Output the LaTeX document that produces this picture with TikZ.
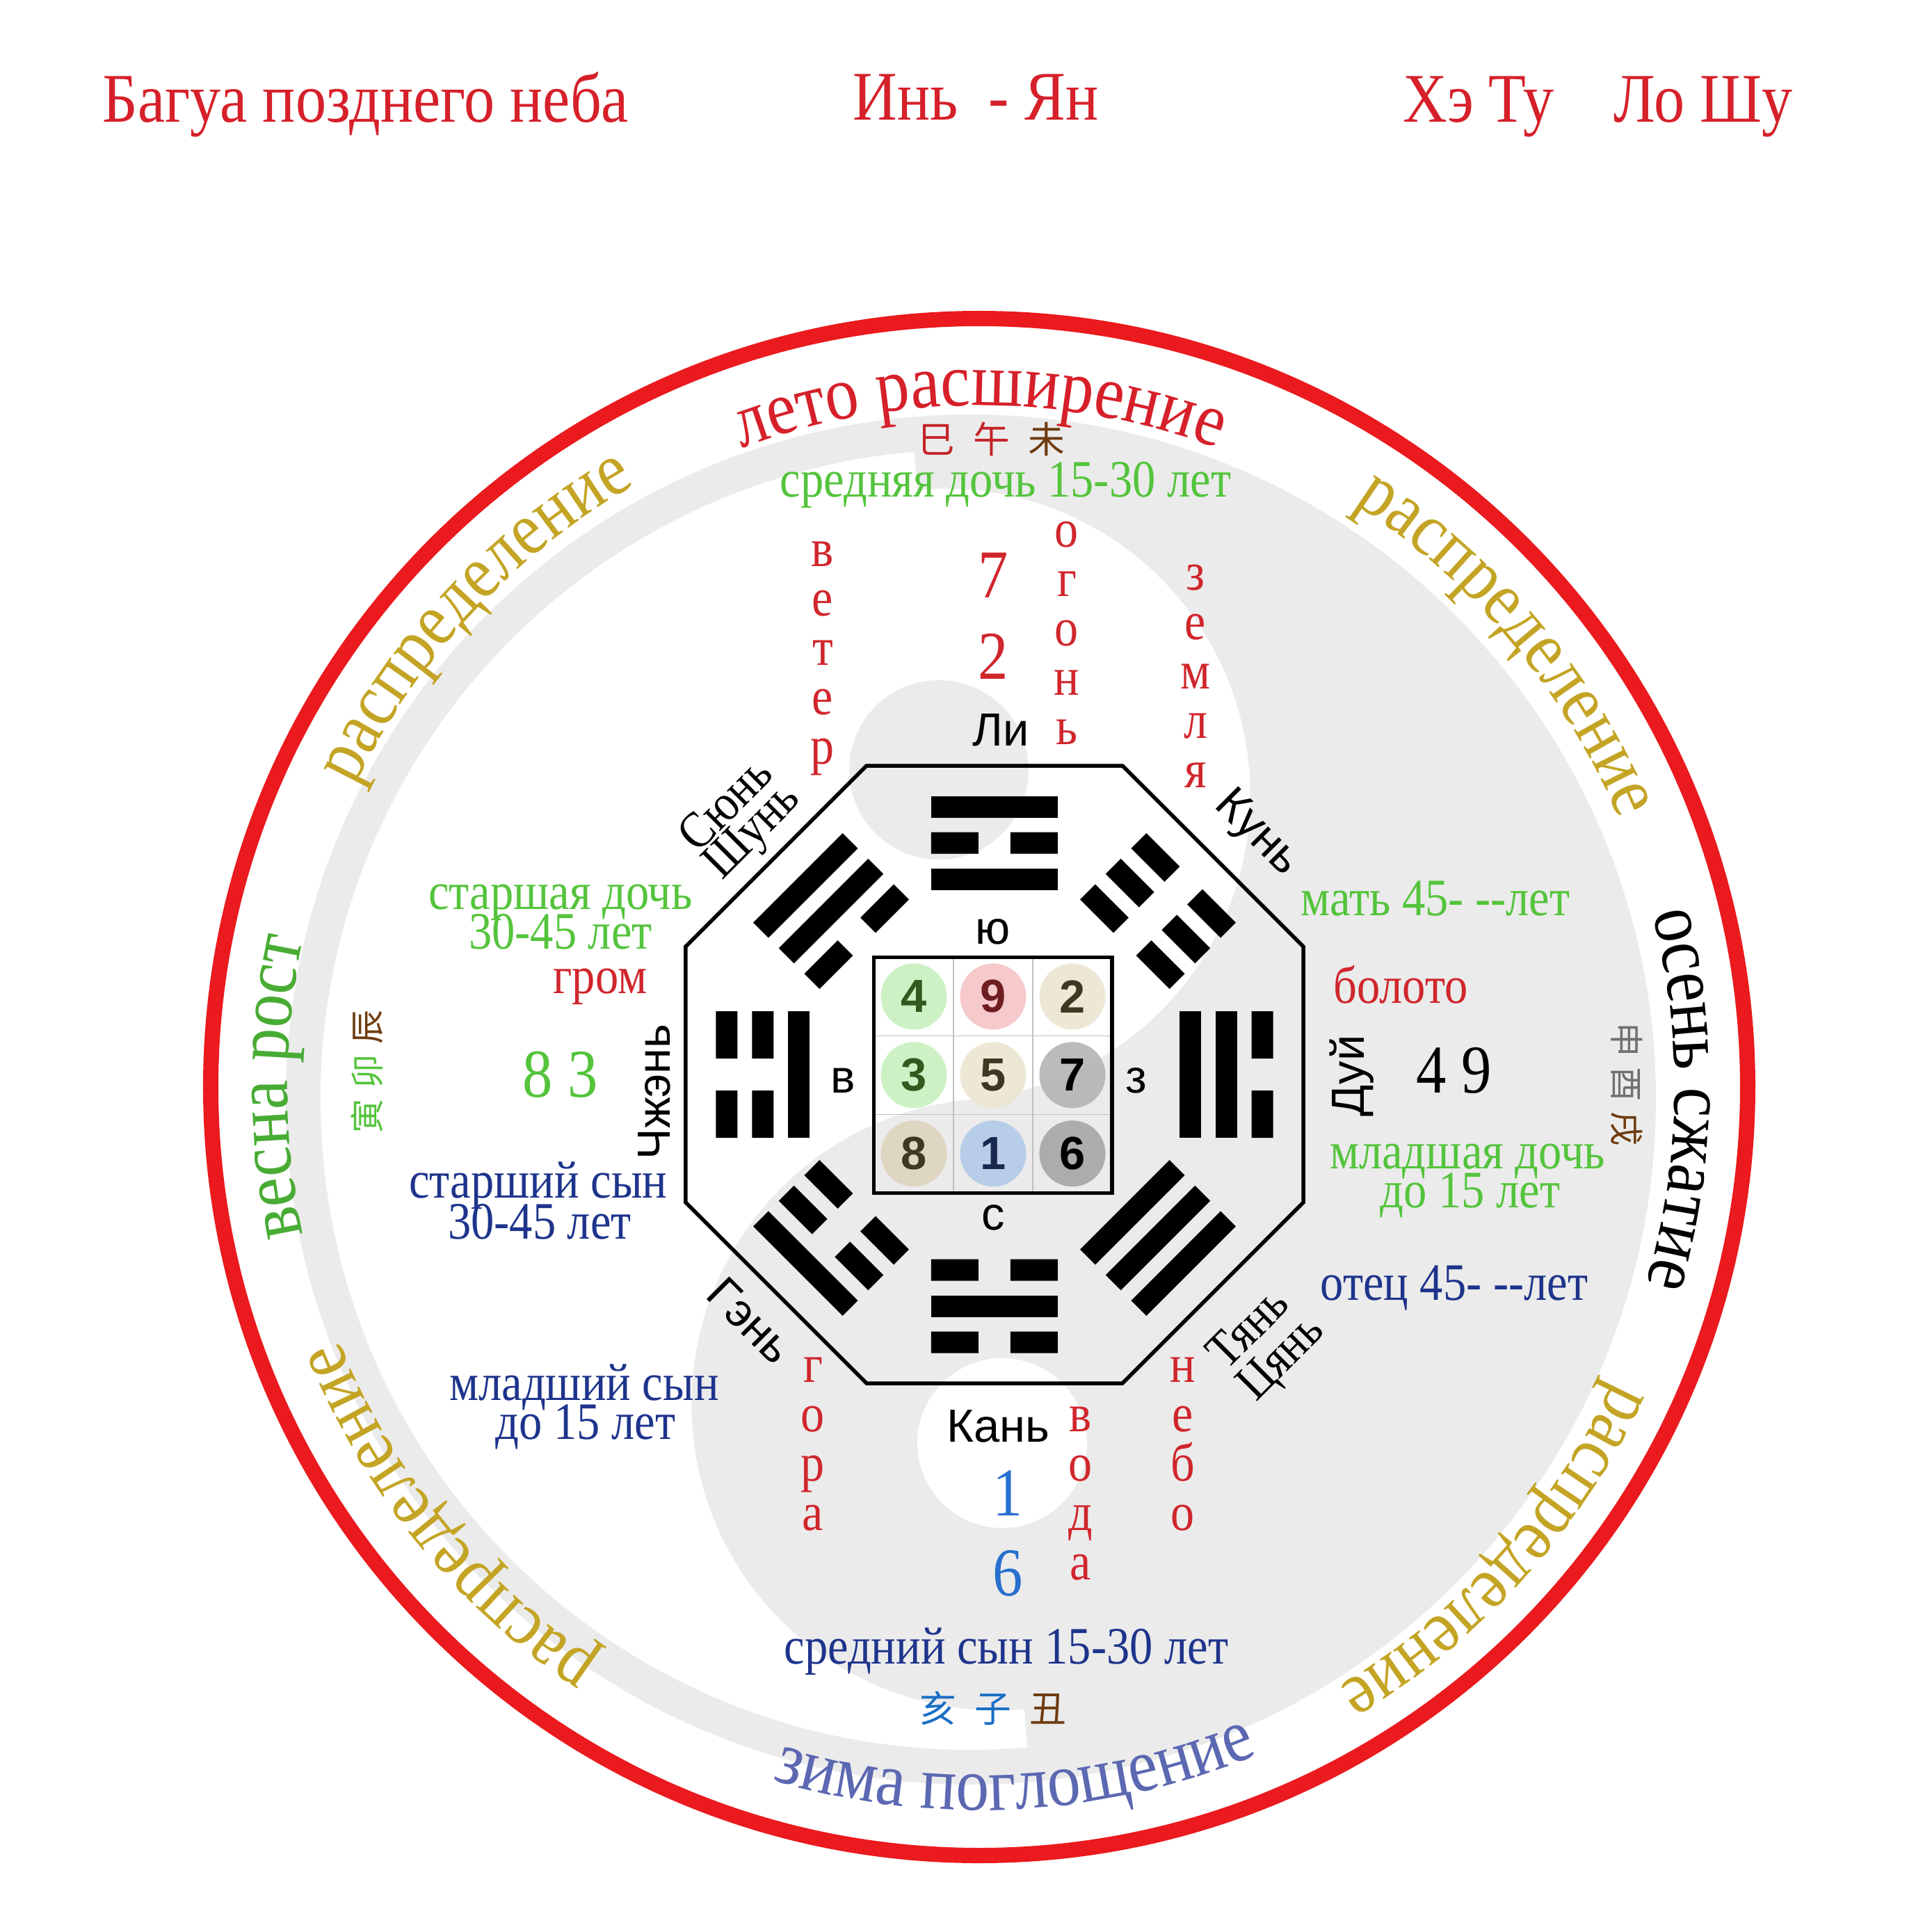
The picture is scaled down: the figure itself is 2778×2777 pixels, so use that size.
\documentclass[tikz,border=0pt]{standalone}
\usepackage{fontspec}
\setmainfont{Liberation Serif}[FakeStretch=0.88]
\newfontfamily\labelsans{Liberation Sans}
\newfontfamily\cjk{Noto Sans CJK SC}
\usetikzlibrary{decorations.text}

\definecolor{ringred}{RGB}{234,26,30}
\definecolor{titlered}{RGB}{214,32,42}
\definecolor{elemred}{RGB}{208,38,44}
\definecolor{yygray}{RGB}{235,235,235}
\definecolor{gold}{RGB}{196,164,36}
\definecolor{famgreen}{RGB}{84,196,60}
\definecolor{springgreen}{RGB}{72,172,52}
\definecolor{navy}{RGB}{30,52,140}
\definecolor{winterblue}{RGB}{92,104,178}
\definecolor{numblue}{RGB}{40,112,206}
\definecolor{branchbrown}{RGB}{110,60,16}
\definecolor{branchred}{RGB}{196,36,40}
\definecolor{branchblue}{RGB}{26,110,196}
\definecolor{branchgray}{RGB}{112,112,112}
\definecolor{cellgreen}{RGB}{200,240,190}
\definecolor{cellpink}{RGB}{246,196,198}
\definecolor{cellbeige}{RGB}{236,230,210}
\definecolor{celltan}{RGB}{222,212,190}
\definecolor{cellblue}{RGB}{178,202,232}
\definecolor{cellgray}{RGB}{180,180,180}
\definecolor{numgreen}{RGB}{48,90,30}
\definecolor{numred}{RGB}{110,30,34}
\definecolor{numolive}{RGB}{62,56,34}
\definecolor{numnavy}{RGB}{26,40,80}

\newcommand{\ringfont}{\fontsize{31}{31}\selectfont}
\newcommand{\yangbar}[1]{\fill (-91,#1-15.5) rectangle (91,#1+15.5);}
\newcommand{\yinbar}[1]{\fill (-91,#1-15.5) rectangle (-23,#1+15.5)
  (23,#1-15.5) rectangle (91,#1+15.5);}
\newcommand{\trigram}[5]{%
  \begin{scope}[shift={#1},rotate=#2]
    #3{52} #4{0} #5{-52}
  \end{scope}}

\begin{document}
\begin{tikzpicture}[
  x=0.01cm, y=0.01cm,
  title/.style={font=\fontsize{28.5}{28.5}\selectfont, text=titlered,
    anchor=base, inner sep=0},
  ring/.style={draw=ringred, line width=0.22cm},
  ringtext/.style 2 args={decorate, decoration={text along path,
    text align=center, text color=#1, text={|\ringfont|#2}}},
  family/.style={font=\fontsize{21.5}{21.5}\selectfont, anchor=base,
    inner sep=0},
  elem/.style={font=\fontsize{22}{22}\selectfont, text=elemred,
    anchor=base, inner sep=0},
  digit/.style={font=\fontsize{28}{28}\selectfont, anchor=base, inner sep=0},
  trigname/.style={font=\labelsans\fontsize{19}{19}\selectfont, inner sep=0},
  trigserif/.style={font=\fontsize{21}{21}\selectfont, inner sep=0},
  dirletter/.style={font=\labelsans\fontsize{19}{19}\selectfont, inner sep=0},
  gridnum/.style={circle, minimum size=0.95cm, inner sep=0,
    fill opacity=0.9, text opacity=1,
    font=\labelsans\bfseries\fontsize{19}{19}\selectfont},
  branch/.style={font=\cjk\fontsize{15}{15}\selectfont, inner sep=0},
  sidebranch/.style={font=\cjk\fontsize{14}{14}\selectfont, inner sep=0},
  octagon/.style={draw=black, line width=0.055cm, line join=miter},
  gridline/.style={draw=black!25, line width=0.4pt},
  gridframe/.style={draw=black, line width=0.05cm}
]
\useasboundingbox (-1408,-1214) rectangle (1370,1563);

% titles
\node[title] (ttlbagua) at (-882,1388) {Багуа позднего неба};
\node[title] (ttlyinyang) at (-5,1390) {Инь\ \ - Ян};
\node[title] (ttlhetu) at (718,1388) {Хэ Ту};
\node[title] (ttlloshu) at (1041,1388) {Ло Шу};

% yin-yang background
\fill[yygray] (-12,-18) circle[radius=985];
\begin{scope}[shift={(-12,-18)},rotate=5]
  \fill[white] (0,935) arc[start angle=90,end angle=270,radius=935]
    -- (0,-880) arc[start angle=270,end angle=90,radius=440]
    arc[start angle=-90,end angle=90,radius=440] -- cycle;
\end{scope}
\fill[yygray] (-58,456) circle[radius=129];
\fill[white] (33,-512) circle[radius=122];

% outer ring
\draw[ring] (0,0) circle[radius=1105];

% seasons along the ring
\path[ringtext={titlered}{лето расширение}]
  (135:980) arc[start angle=135,end angle=45,radius=980];
\path[ringtext={gold}{распределение}]
  (180:997) arc[start angle=180,end angle=94,radius=997];
\path[ringtext={gold}{распределение}]
  (85:997) arc[start angle=85,end angle=-5,radius=997];
\path[ringtext={black}{осень сжатие}]
  (40:1000) arc[start angle=40,end angle=-42,radius=1000];
\path[ringtext={gold}{распределение}]
  (-2:1005) arc[start angle=-2,end angle=-82,radius=1005];
\path[ringtext={winterblue}{зима поглощение}]
  (-130:1040) arc[start angle=-130,end angle=-44,radius=1040];
\path[ringtext={gold}{распределение}]
  (259:990) arc[start angle=259,end angle=179,radius=990];
\path[ringtext={springgreen}{весна рост}]
  (220:995) arc[start angle=220,end angle=140,radius=995];

% earthly branches
\node[branch, text=branchred] (brsummer) at (18,932)
  {巳\hspace{0.5em}午\hspace{0.5em}\textcolor{branchbrown}{未}};
\node[branch, text=branchblue] (brwinter) at (20,-893)
  {亥\hspace{0.5em}子\hspace{0.5em}\textcolor{branchbrown}{丑}};
\node[sidebranch, text=famgreen, rotate=90] (brspring) at (-880,22)
  {寅\hspace{0.3em}卯\hspace{0.3em}\textcolor{branchbrown}{辰}};
\node[sidebranch, text=branchgray, rotate=-90] (brautumn) at (931,4)
  {申\hspace{0.3em}酉\hspace{0.3em}\textcolor{branchbrown}{戌}};

% octagon
\draw[octagon] (-162,462) -- (206,462) -- (466,202) -- (466,-166)
  -- (206,-426) -- (-162,-426) -- (-422,-166) -- (-422,202) -- cycle;

% trigrams
\trigram{(22,351)}{0}{\yangbar}{\yinbar}{\yangbar}
\trigram{(22,-315)}{180}{\yinbar}{\yangbar}{\yinbar}
\trigram{(-311,18)}{90}{\yinbar}{\yinbar}{\yangbar}
\trigram{(355,18)}{-90}{\yinbar}{\yangbar}{\yangbar}
\trigram{(-213,253)}{45}{\yangbar}{\yangbar}{\yinbar}
\trigram{(257,253)}{-45}{\yinbar}{\yinbar}{\yinbar}
\trigram{(-213,-217)}{135}{\yangbar}{\yinbar}{\yinbar}
\trigram{(257,-217)}{-135}{\yangbar}{\yangbar}{\yangbar}

% Lo Shu square
\draw[gridline] (-37,186.5) -- (-37,-152) (77,186.5) -- (77,-152)
  (-151,73.7) -- (191,73.7) (-151,-39.2) -- (191,-39.2);
\foreach \c/\r/\n/\bg/\fg in {0/0/4/cellgreen/numgreen, 1/0/9/cellpink/numred,
    2/0/2/cellbeige/numolive, 0/1/3/cellgreen/numgreen,
    1/1/5/cellbeige/numolive, 2/1/7/cellgray/black,
    0/2/8/celltan/numolive, 1/2/1/cellblue/numnavy, 2/2/6/cellgray!92!black/black}
  \node[gridnum, fill=\bg, text=\fg] (lo\n) at (-94+114*\c,130.1-112.9*\r) {\n};
\draw[gridframe] (-151,-152) rectangle (191,186.5);

\node[dirletter] (dirS) at (20,223) {ю};
\node[dirletter] (dirE) at (-196,9) {в};
\node[dirletter] (dirW) at (226,9) {з};
\node[dirletter] (dirN) at (20,-188) {с};

% trigram names
\node[trigname, anchor=base] (nLi) at (31,491) {Ли};
\node[trigname, anchor=base] (nKan) at (27,-510) {Кань};
\node[trigname, rotate=-45] (nKun) at (399,364) {Кунь};
\node[trigname, rotate=90] (nDui) at (536,16) {Дуй};
\node[trigname, rotate=90] (nZhen) at (-467,-7) {Чжэнь};
\node[trigname, rotate=-45] (nGen) at (-329,-336) {Гэнь};
\node[trigserif, rotate=45] (nXun) at (-366,408) {Сюнь};
\node[trigserif, rotate=45] (nShun) at (-324,365) {Шунь};
\node[trigserif, rotate=45] (nTian) at (385,-345) {Тянь};
\node[trigserif, rotate=45] (nQian) at (437,-392) {Цянь};

% elements, written downwards
\foreach \ch [count=\i from 0] in {в,е,т,е,р}
  \node[elem] (veter\i) at (-225,749-71*\i) {\ch};
\foreach \ch [count=\i from 0] in {о,г,о,н,ь}
  \node[elem] (ogon\i) at (126,777-71*\i) {\ch};
\foreach \ch [count=\i from 0] in {з,е,м,л,я}
  \node[elem] (zemlya\i) at (311,715-71*\i) {\ch};
\foreach \ch [count=\i from 0] in {г,о,р,а}
  \node[elem] (gora\i) at (-239,-424-71*\i) {\ch};
\foreach \ch [count=\i from 0] in {в,о,д,а}
  \node[elem] (voda\i) at (146,-495-71*\i) {\ch};
\foreach \ch [count=\i from 0] in {н,е,б,о}
  \node[elem] (nebo\i) at (293,-424-71*\i) {\ch};
\node[family, text=elemred] (grom) at (-545,135) {гром};
\node[family, text=elemred] (boloto) at (606,121) {болото};

% numbers
\node[digit, text=elemred] (numS1) at (20,704) {7};
\node[digit, text=elemred] (numS2) at (20,587) {2};
\node[digit, text=numblue] (numN1) at (41,-616) {1};
\node[digit, text=numblue] (numN2) at (41,-731) {6};
\node[digit, text=famgreen] (numE) at (-602,-14) {8\ 3};
\node[digit, text=black] (numW) at (683,-8) {4\ 9};

% family members
\node[family, text=famgreen] (srdoch) at (38,849) {средняя дочь 15-30 лет};
\node[family, text=famgreen] (stdoch1) at (-602,256) {старшая дочь};
\node[family, text=famgreen] (stdoch2) at (-602,199) {30-45 лет};
\node[family, text=famgreen] (mat) at (656,247) {мать 45- -{}-лет};
\node[family, text=famgreen] (mldoch1) at (702,-117) {младшая дочь};
\node[family, text=famgreen] (mldoch2) at (706,-173) {до 15 лет};
\node[family, text=navy] (otec) at (683,-306) {отец 45- -{}-лет};
\node[family, text=navy] (stsyn1) at (-634,-159) {старший сын};
\node[family, text=navy] (stsyn2) at (-632,-218) {30-45 лет};
\node[family, text=navy] (mlsyn1) at (-568,-450) {младший сын};
\node[family, text=navy] (mlsyn2) at (-566,-506) {до 15 лет};
\node[family, text=navy] (srsyn) at (39,-829) {средний сын 15-30 лет};

\end{tikzpicture}
\end{document}
